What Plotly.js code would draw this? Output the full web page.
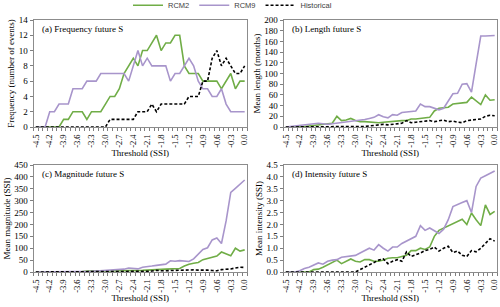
<!DOCTYPE html>
<html><head><meta charset="utf-8">
<script src="https://cdn.plot.ly/plotly-3.0.1.min.js"></script>
<style>html,body{margin:0;padding:0;background:#fff}#chart{width:500px;height:307px}</style>
</head><body><div id="chart"></div>
<script>
const threshold = [-4.5,-4.4,-4.3,-4.2,-4.1,-4.0,-3.9,-3.8,-3.7,-3.6,-3.5,-3.4,-3.3,-3.2,-3.1,-3.0,-2.9,-2.8,-2.7,-2.6,-2.5,-2.4,-2.3,-2.2,-2.1,-2.0,-1.9,-1.8,-1.7,-1.6,-1.5,-1.4,-1.3,-1.2,-1.1,-1.0,-0.9,-0.8,-0.7,-0.6,-0.5,-0.4,-0.3,-0.2,-0.1,0.0];
const tickVals = [-4.5,-4.2,-3.9,-3.6,-3.3,-3.0,-2.7,-2.4,-2.1,-1.8,-1.5,-1.2,-0.9,-0.6,-0.3,0.0];
const tickText = ['-4.5','-4.2','-3.9','-3.6','-3.3','-3.0','-2.7','-2.4','-2.1','-1.8','-1.5','-1.2','-0.9','-0.6','-0.3','0.0'];

// (a) Frequency
const freqRCM2 = [0,0,0,0,0,0,1,1,2,2,2,1,2,2,2,3,4,4,5,7,8,9,8,10,10,11,12,10,11,11,12,12,8,7,7,7,6,6,6,6,5,6,7,5,6,6];
const freqRCM9 = [0,0,0,2,2,3,3,3,5,5,5,6,6,6,7,7,7,7,7,7,6,8,10,8,9,8,8,8,8,6,7,7,8,9,8,6,5,5,4,4,5,3,2,2,2,2];
const freqHist = [0,0,0,0,0,0,0,0,0,0,0,0,0,0,0,0,1,1,1,1,1,1,2,2,2,3,2,3,3,3,3,3,3,4,4,4,6,6,9,10,8,9,8,7,7,8];

// (b) Length
const lenRCM2 = [0,0,0,1,1,2,3,4,5,6,7,20,12,13,16,12,10,10,9,8,8,9,10,11,12,12,12,15,15,16,17,18,30,35,36,37,43,44,45,46,56,49,42,60,50,51];
const lenRCM9 = [0,1,2,3,4,5,6,7,6,5,6,7,8,10,11,12,13,14,16,18,23,19,17,23,22,27,28,29,30,43,38,38,35,32,35,48,62,63,80,81,65,118,170,170,170,171];
const lenHist = [0,0,0,0,0,0,0,0,0,0,0,0,0,0,0,0,1,1,2,3,5,5,4,5,6,7,12,8,9,10,11,12,10,11,13,10,11,9,8,12,13,14,15,20,22,21];

// (c) Magnitude
const magRCM2 = [0,0,0,0.2,0.3,0.5,0.8,1,1.5,2,2,4,3,3.5,4,4,4,4.5,5,5,5,6,7,7,8,8,9,11,12,13,14,15,25,33,37,40,52,57,62,67,84,76,68,100,88,93];
const magRCM9 = [0,0,0,0.2,0.3,0.5,1,1,1,2,2,3,3,4,5,6,7,8,9,12,17,15,13,20,21,25,28,30,33,47,45,48,46,44,55,75,95,102,135,143,120,215,335,352,368,387];
const magHist = [0,0,0,0,0,0,0,0,0,0,0,0,0,0,0,0,0.5,0.7,1,1.5,2,2.5,2,2.5,3,4,7,5,6,7,8,9,8,8,9,8,9,8,6,5,10,11,13,17,20,19];

// (d) Intensity
const intRCM2 = [0,0,0,0,0,0,0.1,0.12,0.2,0.3,0.4,0.5,0.35,0.45,0.55,0.45,0.42,0.52,0.52,0.45,0.45,0.5,0.58,0.6,0.6,0.65,0.7,0.9,0.9,1.0,0.95,1.05,1.5,1.75,1.85,1.95,2.05,2.15,2.22,2.0,2.48,2.2,1.95,2.82,2.42,2.55];
const intRCM9 = [0,0,0,0.05,0.15,0.2,0.3,0.38,0.33,0.45,0.5,0.52,0.62,0.65,0.65,0.7,0.8,0.9,1.0,0.92,1.15,1.0,0.88,1.05,1.05,1.2,1.3,1.4,1.5,1.95,1.75,1.85,1.75,1.62,1.8,2.2,2.75,2.85,2.92,3.0,2.5,3.6,3.95,4.05,4.15,4.25];
const intHist = [0,0,0,0,0,0,0,0,0,0,0,0,0,0,0,0,0.1,0.2,0.3,0.4,0.5,0.55,0.35,0.45,0.52,0.45,0.85,0.65,0.72,0.8,0.9,0.95,1.05,0.88,1.0,1.08,0.82,0.88,0.7,0.65,0.9,0.85,1.0,1.2,1.4,1.3];

const seriesNames = ['RCM2','RCM9','Historical'];
const panelTitles = ['(a) Frequency future S','(b) Length future S','(c) Magnitude future S','(d) Intensity future S'];
const yTitles = ['Frequency (number of events)','Mean length (months)','Mean magnitude (SSI)','Mean intensity (SSI)'];
const xTitle = 'Threshold (SSI)';

const GREEN = '#70AD47', PURPLE = '#A895CB', BLACK = '#000000';
const serif = 'Liberation Serif, Times New Roman, serif';

const panels = [
  [freqRCM2, freqRCM9, freqHist],
  [lenRCM2, lenRCM9, lenHist],
  [magRCM2, magRCM9, magHist],
  [intRCM2, intRCM9, intHist]
];
const traces = [];
panels.forEach((p, k) => {
  const ax = k === 0 ? '' : String(k + 1);
  const styles = [
    {color: GREEN, width: 1.6},
    {color: PURPLE, width: 1.6},
    {color: BLACK, width: 1.6, dash: '3px,2px'}
  ];
  p.forEach((ys, s) => {
    traces.push({
      x: threshold, y: ys, type: 'scatter', mode: 'lines',
      name: seriesNames[s], legendgroup: seriesNames[s], showlegend: k === 0,
      line: styles[s], xaxis: 'x' + ax, yaxis: 'y' + ax, hoverinfo: 'skip'
    });
  });
});

const W = 500, H = 307;
const xdoms = [[33.5/W, 247/W], [283.5/W, 497/W]];
const ydoms = [[1 - 127/H, 1 - 20/H], [1 - 272/H, 1 - 165/H]];
const yRanges = [[0,14],[0,200],[0,450],[0,4.5]];
const yDt = [2,20,50,0.5];
const yFmt = ['d','d','d','.1f'];

const layout = {
  width: W, height: H, margin: {l:0,r:0,t:0,b:0, autoexpand: false},
  paper_bgcolor: '#fff', plot_bgcolor: '#fff', showlegend: true,
  legend: {orientation: 'h', x: 0.465, xanchor: 'center', y: 1.03, yanchor: 'top',
    font: {family: 'Liberation Sans, Arial, sans-serif', size: 7.5, color: '#404040'},
    itemwidth: 30, tracegroupgap: 0, bgcolor: 'rgba(0,0,0,0)'},
  annotations: [], font: {family: serif, size: 9, color: '#000'}
};
for (let k = 0; k < 4; k++) {
  const ax = k === 0 ? '' : String(k + 1);
  const col = k % 2, row = Math.floor(k / 2);
  layout['xaxis' + ax] = {
    domain: xdoms[col], anchor: 'y' + ax, range: [-4.55, 0.05],
    tickmode: 'array', tickvals: tickVals, ticktext: tickText, tickangle: -90,
    ticks: 'outside', ticklen: 3, tickcolor: 'rgba(0,0,0,0)',
    minor: {tickmode: 'linear', tick0: -4.55, dtick: 0.1, ticks: 'outside', ticklen: 3, tickcolor: '#7f7f7f', tickwidth: 1, showgrid: false},
    showline: true, mirror: true, linecolor: '#8c8c8c', linewidth: 1,
    showgrid: false, zeroline: false, fixedrange: true,
    tickfont: {family: serif, size: 8.5, color: '#000'},
    title: {text: xTitle, font: {family: serif, size: 9, color: '#000'}, standoff: 2}
  };
  layout['yaxis' + ax] = {
    domain: ydoms[row], anchor: 'x' + ax, range: yRanges[k], dtick: yDt[k], tick0: 0,
    tickformat: yFmt[k], ticks: 'outside', ticklen: 3, tickcolor: '#7f7f7f',
    showline: true, mirror: true, linecolor: '#8c8c8c', linewidth: 1,
    showgrid: false, zeroline: false, fixedrange: true,
    tickfont: {family: serif, size: 9, color: '#000'},
    title: {text: yTitles[k], font: {family: serif, size: 9, color: '#000'}, standoff: 2}
  };
  layout.annotations.push({
    xref: 'x' + ax + ' domain', yref: 'y' + ax + ' domain', x: 0.03, y: 0.98,
    xanchor: 'left', yanchor: 'top', showarrow: false, text: panelTitles[k],
    font: {family: serif, size: 9, color: '#000'}
  });
}
Plotly.newPlot('chart', traces, layout, {staticPlot: true, displayModeBar: false});
</script></body></html>
